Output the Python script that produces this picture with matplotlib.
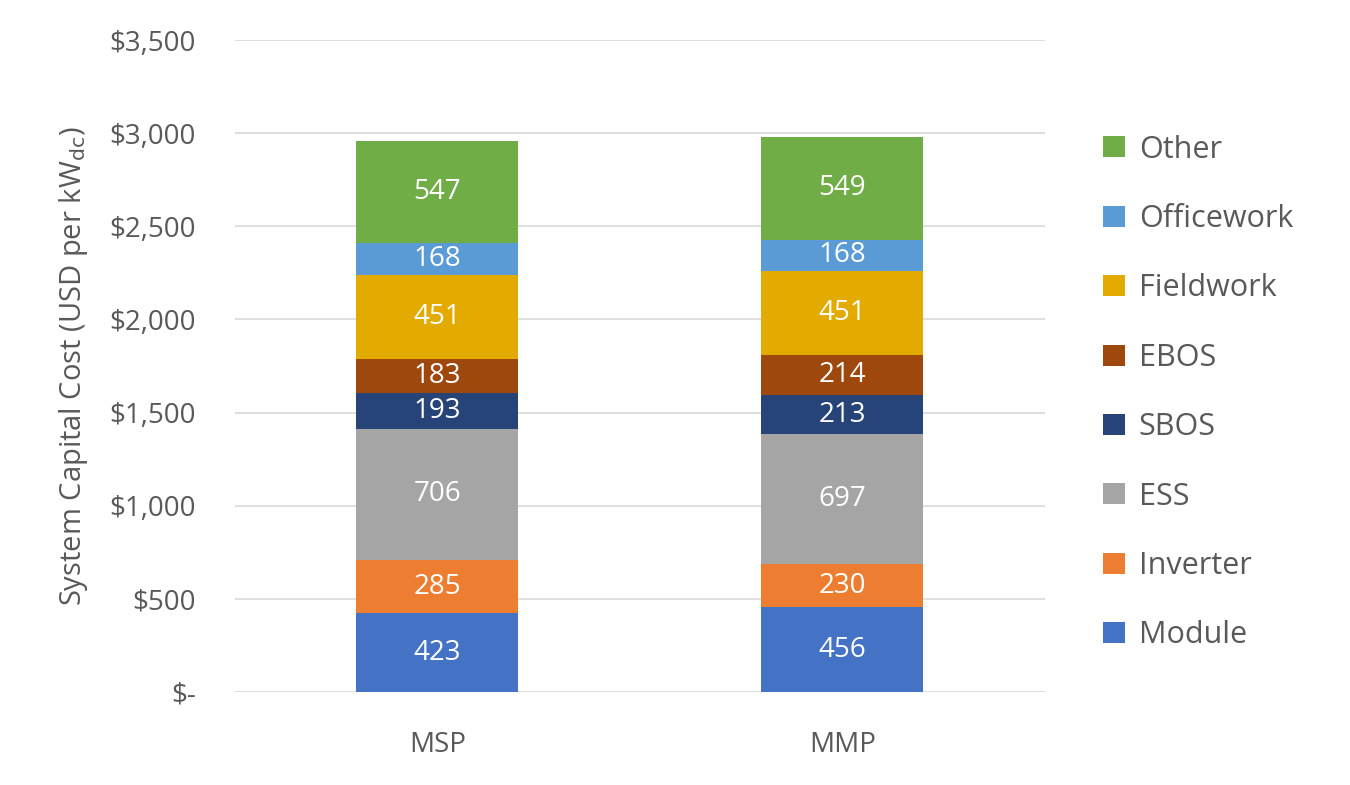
import matplotlib
matplotlib.use("Agg")
import matplotlib.pyplot as plt
from matplotlib.patches import Patch
from matplotlib.ticker import FuncFormatter

plt.rcParams['font.family'] = ['Open Sans', 'DejaVu Sans']

# data
scenarios = ["MSP", "MMP"]
components = ["Module", "Inverter", "ESS", "SBOS", "EBOS",
              "Fieldwork", "Officework", "Other"]
module = [423, 456]
inverter = [285, 230]
ess = [706, 697]
sbos = [193, 213]
ebos = [183, 214]
fieldwork = [451, 451]
officework = [168, 168]
other = [547, 549]
series = [module, inverter, ess, sbos, ebos, fieldwork, officework, other]

colors = ["#4472C4", "#ED7D31", "#A5A5A5", "#264478", "#9E480E",
          "#E3AA00", "#5B9BD5", "#70AD47"]

fig = plt.figure(figsize=(13.5, 7.85), dpi=100)
ax = fig.add_axes([0.174, 0.1185, 0.600, 0.8305])

x = range(len(scenarios))
bottom = [0, 0]
for name, vals, c in zip(components, series, colors):
    bars = ax.bar(x, vals, width=0.4, bottom=bottom, color=c, zorder=3)
    for b, v, y0 in zip(bars, vals, bottom):
        ax.text(b.get_x() + b.get_width() / 2, y0 + v / 2, f"{v}",
                ha="center", va="center", color="white", fontsize=20)
    bottom = [a + b for a, b in zip(bottom, vals)]

ax.set_xlim(-0.5, 1.5)
ax.set_ylim(0, 3500)
ax.set_yticks(range(0, 3501, 500))
ax.yaxis.set_major_formatter(FuncFormatter(
    lambda v, p: "$-" if v == 0 else f"${v:,.0f}"))
ax.set_xticks(list(x))
ax.set_xticklabels(scenarios)
ax.grid(axis="y", color="#D9D9D9", linewidth=1.2, zorder=0)
for s in ax.spines.values():
    s.set_visible(False)
ax.tick_params(axis="both", length=0, labelsize=20, colors="#595959")
ax.tick_params(axis="y", pad=28)
ax.tick_params(axis="x", pad=28)
ax.set_ylabel("System Capital Cost (USD per kW$_{\\mathrm{dc}}$)",
              fontsize=21, color="#595959", labelpad=14)

handles = [Patch(facecolor=c, label=n) for n, c in zip(components, colors)]
fig.legend(handles=handles[::-1], loc="center left",
           bbox_to_anchor=(0.817, 0.500), frameon=False, fontsize=22,
           labelcolor="#595959", handlelength=0.72, handleheight=0.68,
           handletextpad=0.45, labelspacing=1.29, borderpad=0,
           borderaxespad=0)

fig.savefig("out.png", dpi=100)
